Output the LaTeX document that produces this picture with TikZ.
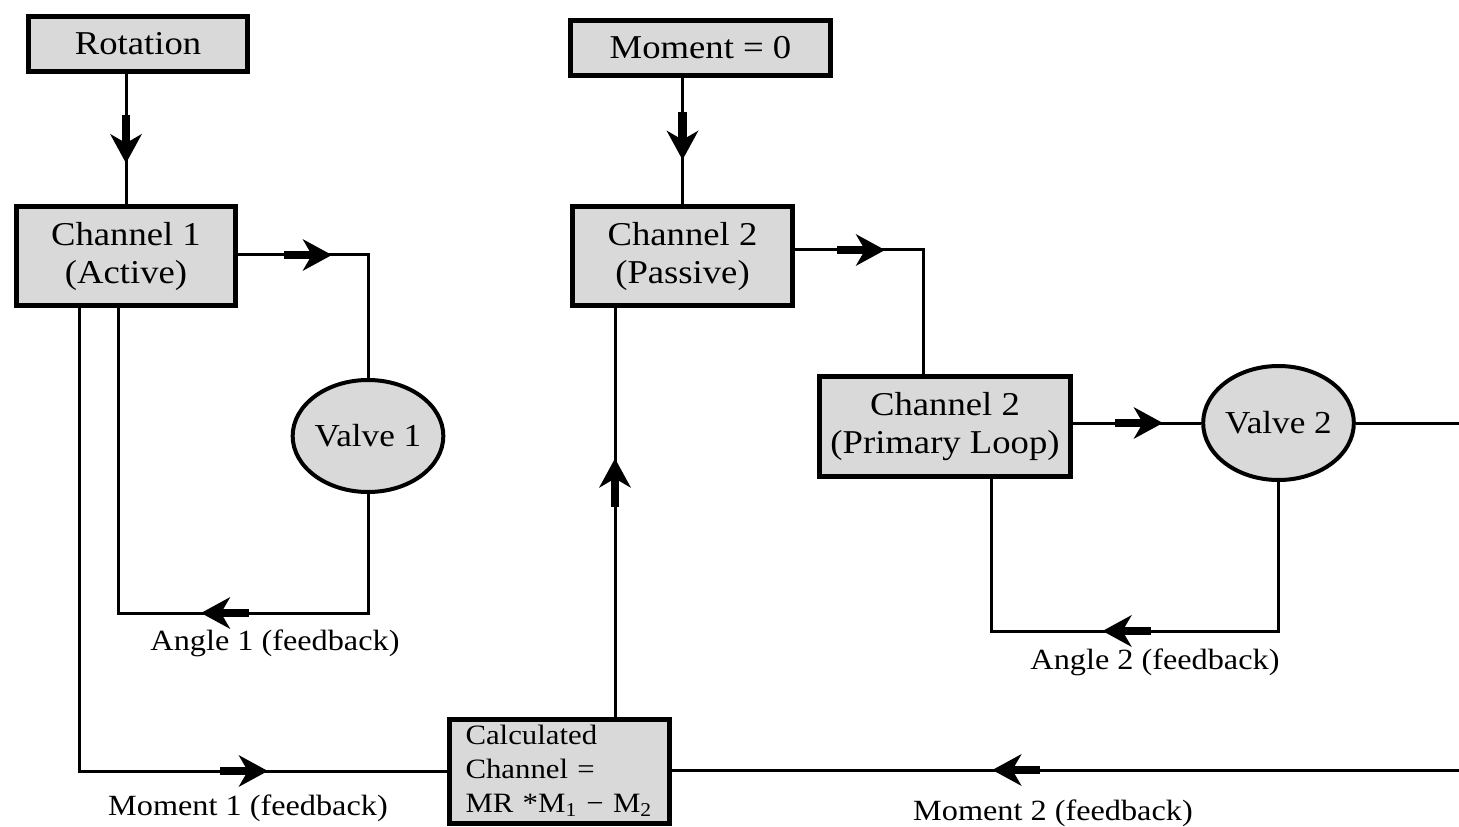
\documentclass[tikz,border=0pt]{standalone}
\usepackage{fontspec}
\setmainfont{Liberation Serif}[FakeStretch=1.1]
\usetikzlibrary{shapes.geometric,decorations.markings,calc}

\definecolor{boxgray}{RGB}{217,217,217}

\tikzset{every picture/.style={line width=2.25pt}}
\tikzset{
  blockbox/.style={draw,line width=3.75pt,fill=boxgray,inner sep=2pt,align=center,font=\fontsize{25}{28.5}\selectfont},
  valvenode/.style={ellipse,draw,line width=3pt,fill=boxgray,inner sep=0pt,font=\fontsize{24}{28}\selectfont},
  fblabel/.style={font=\fontsize{22}{26}\selectfont},
  flowmark/.style={postaction={decorate},decoration={markings,mark=at position #1 with {
      \fill (-36pt,-3.25pt) rectangle (-13pt,3.25pt);
      \fill (0,0) -- (-22pt,12pt) -- (-15pt,0) -- (-22pt,-12pt) -- cycle;}}}
}

\begin{document}
\begin{tikzpicture}[x=0.75pt,y=0.75pt,yscale=-1,xscale=1]
		\useasboundingbox (0,0) rectangle (1459,827);
		%Shape: Rectangle [id:rot]
		\node[blockbox,minimum width=164pt,minimum height=41pt] (rot) at (138,44) {Rotation};
		%Shape: Rectangle [id:mom]
		\node[blockbox,minimum width=195pt,minimum height=41pt] (mom) at (700.5,48) {Moment = 0};
		%Shape: Rectangle [id:ch1]
		\node[blockbox,minimum width=164pt,minimum height=74pt] (ch1) at (126,256) {Channel 1\\(Active)};
		%Shape: Rectangle [id:ch2p]
		\node[blockbox,minimum width=165pt,minimum height=74pt] (ch2p) at (682.5,256) {Channel 2\\(Passive)};
		%Shape: Rectangle [id:pl]
		\node[blockbox,minimum width=188pt,minimum height=75pt] (pl) at (945,426.5) {Channel 2\\(Primary Loop)};
		%Shape: Rectangle [id:calc]
		\node[blockbox,minimum width=165pt,minimum height=78pt,text width=141pt,inner xsep=12pt,inner ysep=0pt,align=left,font=\fontsize{21}{25.5}\selectfont] (calc) at (559.5,771) {Calculated\\Channel =\\MR *M\textsubscript{1} − M\textsubscript{2}};
		%Shape: Ellipse [id:v1]
		\node[valvenode,minimum width=102pt,minimum height=84pt] (v1) at (368,436) {Valve 1};
		%Shape: Ellipse [id:v2]
		\node[valvenode,minimum width=104pt,minimum height=85.5pt] (v2) at (1278.5,423) {Valve 2};

		% corners and ends of the loops
		\coordinate (ch1fb) at ($(ch1.south)+(-8,0)$);
		\coordinate (ch1out) at ($(ch1.south)+(-47,0)$);
		\coordinate (ch2pin) at ($(ch2p.south)+(-67.5,0)$);
		\coordinate (plin) at ($(pl.north)+(-22,0)$);
		\coordinate (plfb) at ($(pl.south)+(46,0)$);
		\coordinate (fb1) at (368,613);
		\coordinate (fb2) at (1278.5,631);
		\coordinate (rimA) at (1459,423);
		\coordinate (rimB) at (1459,770);

		%Straight Lines
		\draw[flowmark=67pt] (ch1 |- rot.south) -- (ch1);
		\draw[flowmark=61.5pt] (ch2p |- mom.south) -- (ch2p);
		\draw[flowmark=70.5pt] ($(ch1.east)+(0,-1)$) -| (v1);
		\draw[flowmark=214.5pt] (v1) -- (fb1) -| (ch1fb);
		\draw[flowmark=489pt] (ch1out) |- (calc);
		\draw[flowmark=193.5pt] (calc.north -| ch2pin) -- (ch2pin);
		\draw[flowmark=67.5pt] ($(ch2p.east)+(0,-6)$) -| (plin);
		\draw[flowmark=67.5pt] (pl.east |- v2) -- (v2);
		\draw (v2) -- (rimA);
		\draw[flowmark=350pt] (rimB) -- (calc.east |- rimB);
		\draw[flowmark=243.75pt] (v2) -- (fb2) -| (plfb);

		% Text Node
		\node[fblabel] (ang1lbl) at (275,643) {Angle 1 (feedback)};
		% Text Node
		\node[fblabel] (mom1lbl) at (248,808) {Moment 1 (feedback)};
		% Text Node
		\node[fblabel] (ang2lbl) at (1155,662) {Angle 2 (feedback)};
		% Text Node
		\node[fblabel] (mom2lbl) at (1053,813) {Moment 2 (feedback)};

\end{tikzpicture}
\end{document}
